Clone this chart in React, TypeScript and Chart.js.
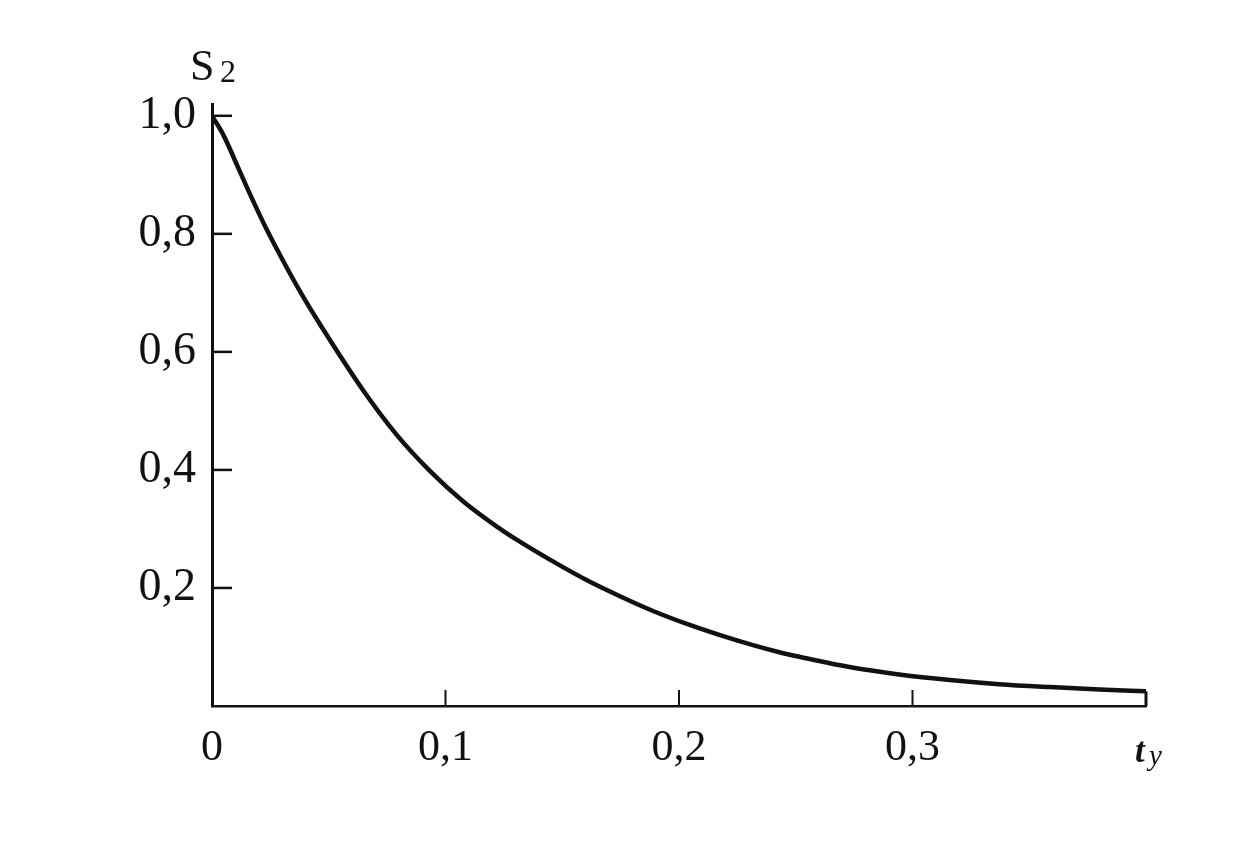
import React, { useEffect, useRef } from "react";
import { Chart, registerables } from "chart.js";

Chart.register(...registerables);

// Curve S2(t_y)
const tValues = [0, 0.0047, 0.011, 0.017, 0.0236, 0.0313, 0.0385, 0.0465, 0.0647, 0.0792, 0.0934, 0.1075, 0.122, 0.132, 0.146, 0.1606, 0.1747, 0.1889, 0.2034, 0.2176, 0.2317, 0.243, 0.252, 0.273, 0.295, 0.316, 0.337, 0.359, 0.38, 0.4];
const s2Values = [1.0, 0.969, 0.914, 0.861, 0.806, 0.748, 0.697, 0.645, 0.535, 0.459, 0.398, 0.347, 0.304, 0.278, 0.245, 0.213, 0.186, 0.161, 0.139, 0.12, 0.103, 0.091, 0.083, 0.066, 0.053, 0.044, 0.037, 0.032, 0.028, 0.025];

const xTicks = [0, 0.1, 0.2, 0.3];
const yTicks = [0.2, 0.4, 0.6, 0.8, 1.0];
const xTickMarks = [0.1, 0.2, 0.3];
const yAxisTitle = "S";
const yAxisTitleSub = "2";
const xAxisTitle = "t";
const xAxisTitleSub = "y";

const FONT = '"Liberation Serif", "DejaVu Serif", serif';

const fmt = (v: number) => (v === 0 ? "0" : v.toFixed(1).replace(".", ","));

const decorPlugin = {
  id: "decor",
  afterDraw(chart: any) {
    const ctx = chart.ctx;
    const xs = chart.scales.x;
    const ys = chart.scales.y;
    const x0 = xs.getPixelForValue(0);
    const y0 = ys.getPixelForValue(0);
    ctx.save();
    ctx.strokeStyle = "#111";
    ctx.lineCap = "butt";
    // y tick marks (inward)
    ctx.lineWidth = 2.5;
    yTicks.forEach((v) => {
      const y = ys.getPixelForValue(v);
      ctx.beginPath();
      ctx.moveTo(x0, y);
      ctx.lineTo(x0 + 20, y);
      ctx.stroke();
    });
    // x tick marks (inward)
    ctx.lineWidth = 2;
    xTickMarks.forEach((v) => {
      const x = xs.getPixelForValue(v);
      ctx.beginPath();
      ctx.moveTo(x, y0);
      ctx.lineTo(x, y0 - 16);
      ctx.stroke();
    });
    // closing vertical segment at the end of the curve
    const lastT = tValues[tValues.length - 1];
    const lastS = s2Values[s2Values.length - 1];
    ctx.lineWidth = 3;
    ctx.beginPath();
    ctx.moveTo(xs.getPixelForValue(lastT), y0);
    ctx.lineTo(xs.getPixelForValue(lastT), ys.getPixelForValue(lastS));
    ctx.stroke();

    // axis titles
    ctx.fillStyle = "#111";
    ctx.textBaseline = "alphabetic";
    ctx.textAlign = "left";
    ctx.font = `44px ${FONT}`;
    ctx.fillText(yAxisTitle, x0 - 22, 80);
    ctx.font = `32px ${FONT}`;
    ctx.fillText(yAxisTitleSub, x0 + 8, 82);

    const xe = xs.getPixelForValue(0.4);
    ctx.font = `italic bold 35px ${FONT}`;
    ctx.fillText(xAxisTitle, xe - 11, 762);
    ctx.font = `italic 29px ${FONT}`;
    ctx.fillText(xAxisTitleSub, xe + 3, 765);
    ctx.restore();
  },
};

export default function App() {
  const ref = useRef<HTMLCanvasElement | null>(null);

  useEffect(() => {
    if (!ref.current) return;
    const chart = new Chart(ref.current, {
      type: "line",
      data: {
        datasets: [
          {
            data: tValues.map((t, i) => ({ x: t, y: s2Values[i] })),
            borderColor: "#111",
            borderWidth: 4.5,
            pointRadius: 0,
            cubicInterpolationMode: "monotone",
            fill: false,
          },
        ],
      },
      options: {
        animation: false,
        responsive: false,
        maintainAspectRatio: false,
        layout: { padding: { top: 104, right: 106, left: 0, bottom: 0 } },
        plugins: { legend: { display: false }, tooltip: { enabled: false } },
        scales: {
          x: {
            type: "linear",
            min: 0,
            max: 0.4,
            afterBuildTicks: (s: any) => {
              s.ticks = xTicks.map((v) => ({ value: v }));
            },
            afterFit: (s: any) => {
              s.height = 145;
            },
            grid: { display: false, drawTicks: false },
            border: { display: true, color: "#111", width: 2.5 },
            ticks: {
              color: "#111",
              padding: 16,
              maxRotation: 0,
              autoSkip: false,
              font: { family: FONT, size: 44 },
              callback: (v: any) => fmt(Number(v)),
            },
          },
          y: {
            type: "linear",
            min: 0,
            max: 1.02,
            afterBuildTicks: (s: any) => {
              s.ticks = yTicks.map((v) => ({ value: v }));
            },
            afterFit: (s: any) => {
              s.width = 212;
            },
            grid: { display: false, drawTicks: false },
            border: { display: true, color: "#111", width: 3 },
            ticks: {
              color: "#111",
              padding: 16,
              autoSkip: false,
              font: { family: FONT, size: 46 },
              callback: (v: any) => fmt(Number(v)),
            },
          },
        },
      },
      plugins: [decorPlugin],
    } as any);
    return () => chart.destroy();
  }, []);

  return (
    <div style={{ position: "absolute", left: 0, top: 0, width: 1252, height: 851, background: "#fff" }}>
      <canvas ref={ref} width={1252} height={851} style={{ display: "block", width: 1252, height: 851 }} />
    </div>
  );
}
